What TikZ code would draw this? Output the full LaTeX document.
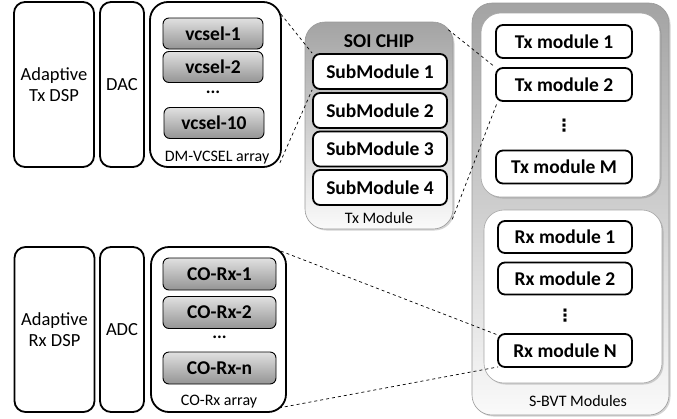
\documentclass[tikz,border=0pt]{standalone}
\usepackage{fontspec}
\setmainfont{Carlito}
\newfontfamily\symfont{DejaVu Sans}
\usetikzlibrary{shadows,calc}

\tikzset{
  blockbox/.style = {draw, line width=1.8pt, rounded corners=11pt, fill=white,
                     align=center, font=\fontsize{18.5}{21}\selectfont},
  arraybox/.style = {draw, line width=1.8pt, rounded corners=18pt, fill=white},
  cellbox/.style  = {draw, line width=0.9pt, rounded corners=6pt, top color=black!12,
                     bottom color=black!42, font=\fontsize{19.5}{21}\selectfont\bfseries},
  modbox/.style   = {draw, line width=1.8pt, rounded corners=7pt, fill=white,
                     font=\fontsize{19.5}{21}\selectfont\bfseries},
  grpbox/.style   = {draw=black!35, line width=0.6pt, rounded corners=20pt, fill=white,
                     drop shadow={shadow xshift=1.5pt, shadow yshift=-1.5pt, opacity=0.35}},
  chipbox/.style  = {draw=black!40, line width=0.6pt, rounded corners=20pt,
                     top color=black!36, bottom color=black!2,
                     drop shadow={shadow xshift=1.5pt, shadow yshift=-1.5pt, opacity=0.35}},
  caption/.style  = {font=\fontsize{16}{18}\selectfont},
  dotsmark/.style = {font=\fontsize{18}{20}\selectfont\bfseries},
  vdotsmark/.style = {font=\fontsize{17}{19}\symfont\bfseries},
  link/.style     = {dashed, line width=0.7pt}
}

\begin{document}
\begin{tikzpicture}[x=1pt, y=-1pt, inner sep=0pt]
  \useasboundingbox (0,0) rectangle (677,418);

  % Tx chain
  \node[blockbox, minimum width=80, minimum height=165] at (54,84.5) (txdsp) {Adaptive\\Tx DSP};
  \node[blockbox, minimum width=44, minimum height=165] at (122,84.5) (dac) {DAC};
  \node[arraybox, minimum width=131, minimum height=165] at (215.5,84.5) (vcselarr) {};
  \node[cellbox, minimum width=100, minimum height=31] at (213,33.5) (vcsel1) {vcsel-1};
  \node[cellbox, minimum width=100, minimum height=31] at (213,67) (vcsel2) {vcsel-2};
  \node[dotsmark] at (213,92) (vcseldots) {...};
  \node[cellbox, minimum width=100, minimum height=31] at (214,123) (vcsel10) {vcsel-10};
  \node[caption] at (217,158) (vcsellbl) {DM-VCSEL array};

  % Rx chain
  \node[blockbox, minimum width=80, minimum height=165] at (54.5,329.5) (rxdsp) {Adaptive\\Rx DSP};
  \node[blockbox, minimum width=44, minimum height=165] at (122,329.5) (adc) {ADC};
  \node[arraybox, minimum width=135, minimum height=165] at (218.5,329.5) (corxarr) {};
  \node[cellbox, minimum width=113, minimum height=32] at (219.5,274) (corx1) {CO-Rx-1};
  \node[cellbox, minimum width=113, minimum height=32] at (219.5,312.5) (corx2) {CO-Rx-2};
  \node[dotsmark] at (219.5,337) (corxdots) {...};
  \node[cellbox, minimum width=113, minimum height=32] at (219.5,368) (corxn) {CO-Rx-n};
  \node[caption] at (219,402) (corxlbl) {CO-Rx array};

  % SOI chip
  \node[chipbox, minimum width=148, minimum height=207] at (379,125.5) (soi) {};
  \node[font=\fontsize{19.5}{21}\selectfont\bfseries] at (379,41) (soilbl) {SOI CHIP};
  \node[modbox, minimum width=134, minimum height=35] at (380,71.5) (sub1) {SubModule 1};
  \node[modbox, minimum width=134, minimum height=35] at (380,110.5) (sub2) {SubModule 2};
  \node[modbox, minimum width=134, minimum height=35] at (380,149) (sub3) {SubModule 3};
  \node[modbox, minimum width=134, minimum height=35] at (380,187.5) (sub4) {SubModule 4};
  \node[caption] at (379,218) (txmodlbl) {Tx Module};

  % S-BVT
  \node[chipbox, minimum width=197, minimum height=412] at (570.5,209) (sbvt) {};
  \node[grpbox, minimum width=179, minimum height=184] at (570.5,105) (txgrp) {};
  \node[modbox, minimum width=136, minimum height=33] at (564,41.5) (tx1) {Tx module 1};
  \node[modbox, minimum width=136, minimum height=33] at (564,84.5) (tx2) {Tx module 2};
  \node[vdotsmark] at (564,126) (txdots) {⋮};
  \node[modbox, minimum width=136, minimum height=33] at (564,167) (txm) {Tx module M};
  \node[grpbox, minimum width=178, minimum height=173] at (573,296.5) (rxgrp) {};
  \node[modbox, minimum width=134, minimum height=32] at (565,237) (rx1) {Rx module 1};
  \node[modbox, minimum width=134, minimum height=32] at (565,278.5) (rx2) {Rx module 2};
  \node[vdotsmark] at (565,316) (rxdots) {⋮};
  \node[modbox, minimum width=134, minimum height=33] at (565,350.5) (rxn) {Rx module N};
  \node[caption] at (578,401) (sbvtlbl) {S-BVT Modules};

  % zoom lines
  \draw[link] ($(vcselarr.north east)+(-1,13)$) -- (sub1.north west);
  \draw[link] ($(vcselarr.south east)+(-2,-5)$) -- (sub1.south west);
  \draw[link] ($(soi.north east)+(-5,8)$) -- (tx2.north west);
  \draw[link] ($(soi.south east)+(-1,-10)$) -- ($(tx2.south west)+(2,1)$);
  \draw[link] ($(corxarr.north east)+(-6,5)$) -- ($(rxn.north west)+(1,2)$);
  \draw[link] ($(corxarr.south east)+(-8,-5)$) -- ($(rxn.south west)+(1,-1)$);
\end{tikzpicture}
\end{document}
